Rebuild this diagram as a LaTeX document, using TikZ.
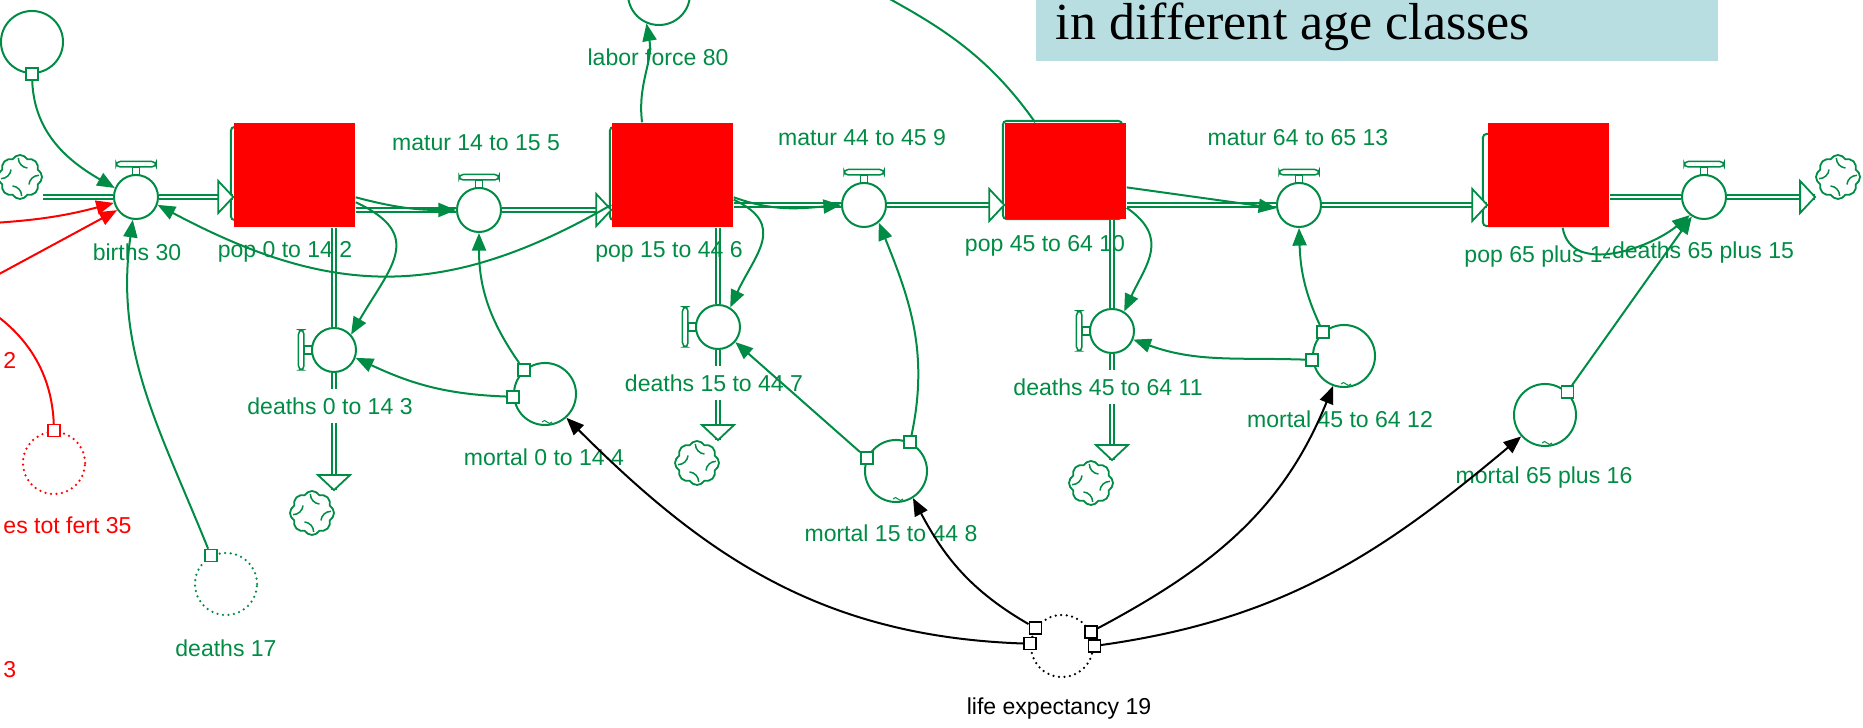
\documentclass[tikz,border=0pt]{standalone}
\usepackage{fontspec}
\setmainfont{Liberation Serif}
\setsansfont{Liberation Sans}
\usetikzlibrary{arrows.meta}
\usetikzlibrary{shapes.symbols}
\usetikzlibrary{positioning}

\definecolor{vgreen}{RGB}{0,140,68}
\definecolor{titlebg}{RGB}{185,222,226}

\newcommand\taptop[1]{%
  \draw[vgreen, line width=0.015cm] ([shift={(-3.5,-1)}]#1.north) rectangle ([shift={(3.5,7)}]#1.north);
  \draw[vgreen, line width=0.015cm, fill=white, rounded corners=1.2pt] ([shift={(-20,7)}]#1.north) rectangle ([shift={(20,12.5)}]#1.north);}
\newcommand\tapside[1]{%
  \draw[vgreen, line width=0.015cm] ([shift={(1,-4)}]#1.west) rectangle ([shift={(-7,4)}]#1.west);
  \draw[vgreen, line width=0.015cm, fill=white, rounded corners=1.2pt] ([shift={(-7,-20)}]#1.west) rectangle ([shift={(-12.5,20)}]#1.west);}
\newcommand\swirl[1]{%
  \foreach \a in {0,90,180,270}
    \draw[vgreen, line width=0.015cm] ([shift={({\a+95}:19)}]#1.center) arc[start angle=\a+180, end angle=\a+265, radius=10];}
\newcommand\tild[1]{%
  \draw[vgreen, line width=0.01cm] ([shift={(-3,4)}]#1.south) sin ++(2.5,1.5) cos ++(2.5,-1.5) sin ++(2.5,-1.5) cos ++(2.5,1.5);}

\begin{document}
\begin{tikzpicture}[x=0.01cm, y=0.01cm,
  lbl/.style={font=\sffamily\fontsize{6.55pt}{7.5pt}\selectfont, text=vgreen, inner sep=0.5pt},
  wlbl/.style={lbl, fill=white, inner xsep=1pt, inner ysep=0.09cm},
  valve/.style={circle, draw=vgreen, fill=white, line width=0.02cm, minimum size=0.44cm, inner sep=0},
  aux/.style={circle, draw=vgreen, line width=0.02cm, minimum size=0.62cm, inner sep=0},
  ghost/.style={aux, dash pattern=on 0pt off 0.055cm, line cap=round, line width=0.025cm},
  stock/.style={draw=vgreen, line width=0.02cm, rounded corners=1pt, minimum width=1.2cm, inner sep=0},
  redbox/.style={fill=red, minimum width=1.21cm, inner sep=0},
  sink/.style={cloud, cloud puffs=8, cloud puff arc=120, aspect=1, draw=vgreen, fill=white, line width=0.018cm, minimum size=0.44cm, inner sep=0},
  hnd/.style={draw=vgreen, fill=white, line width=0.015cm, minimum size=0.12cm, inner sep=0},
  pipe/.style={draw=vgreen, line width=0.018cm, double=white, double distance=0.025cm},
  link/.style={vgreen, line width=0.02cm, -{Triangle[length=5pt,width=4pt]}},
  pics/flowtip/.style={code={\draw[vgreen, fill=white, line width=0.018cm] (0,0) -- (-15,16) -- (-15,-16) -- cycle;}}]
\useasboundingbox (0,0) rectangle (1863,-728);
\clip (0,0) rectangle (1863,-728);

\node[fill=titlebg, minimum width=6.82cm, minimum height=0.82cm, anchor=south west, inner sep=0] (tbox) at (1035,-62) {};
\node[anchor=base west, inner sep=0, font=\rmfamily\fontsize{14.8pt}{16pt}\selectfont] (ttl) at (1055,-40) {in different age classes};

% stocks
\node[stock, minimum height=0.93cm] (p0b) at (291,-173.5) {};
\node[stock, minimum height=0.93cm] (p15b) at (670,-173.5) {};
\node[stock, minimum width=1.19cm, minimum height=0.98cm] (p45b) at (1062.5,-170) {};
\node[stock, minimum height=0.92cm] (p65b) at (1543,-180) {};
\node[redbox, minimum height=1.04cm] (p0) at (294.5,-175) {};
\node[redbox, minimum height=1.04cm] (p15) at (672.5,-175) {};
\node[redbox, minimum height=0.96cm] (p45) at (1065.5,-171) {};
\node[redbox, minimum height=1.04cm] (p65) at (1548.5,-175) {};

% clouds
\node[sink] (c0) at (20,-177) {};
\node[sink] (cd0) at (312,-513) {};
\node[sink] (cd15) at (697,-463) {};
\node[sink] (cd45) at (1091,-483) {};
\node[sink] (c65) at (1838,-177) {};
\foreach \c in {c0,cd0,cd15,cd45,c65} {\swirl{\c}}

% valves
\node[valve] (vb) at (136,-197) {};
\node[valve] (v14) at (479,-210) {};
\node[valve] (v44) at (864,-205) {};
\node[valve] (v64) at (1299,-205) {};
\node[valve] (vd65) at (1704,-197) {};
\node[valve] (vd0) at (334,-350) {};
\node[valve] (vd15) at (718,-327) {};
\node[valve] (vd45) at (1112,-331) {};
\foreach \v in {vb,v14,v44,v64,vd65} {\taptop{\v}}
\foreach \v in {vd0,vd15,vd45} {\tapside{\v}}

% auxiliaries
\node[aux] (a0) at (32,-42) {};
\node[aux] (lf) at (659,6) {};
\node[aux] (m0) at (545,-394) {};
\node[aux] (m15) at (896,-471) {};
\node[aux] (m45) at (1344,-356) {};
\node[aux] (m65) at (1545,-415) {};
\node[ghost] (d17) at (226,-584) {};
\node[ghost, draw=red] (tf) at (54,-463) {};
\node[ghost, draw=black] (le) at (1062,-646) {};
\foreach \m in {m0,m15,m45,m65} {\tild{\m}}

\node[hnd] (a0h) at (a0.south) {};
\node[hnd] (d17h) at (d17.118) {};
\node[hnd, draw=red] (tfh) at (tf.north) {};
\node[hnd] (m0h1) at (m0.131) {};
\node[hnd] (m0h2) at (m0.185) {};
\node[hnd] (m15h1) at (m15.156) {};
\node[hnd] (m15h2) at (m15.64) {};
\node[hnd] (m45h1) at (m45.131) {};
\node[hnd] (m45h2) at (m45.187) {};
\node[hnd] (m65h) at (m65.46) {};
\node[hnd, draw=black] (leh1) at (le.146) {};
\node[hnd, draw=black] (leh2) at (le.176) {};
\node[hnd, draw=black] (leh3) at (le.26) {};
\node[hnd, draw=black] (leh4) at (le.0) {};

% pipes
\draw[pipe] (c0.east |- vb.west) -- (vb.west);
\draw[pipe] (vb.east) -- (vb.east -| p0.west);
\draw[pipe] (p0.east |- v14.west) -- (v14.west);
\draw[pipe] (v14.east) -- (v14.east -| p15.west);
\draw[pipe] (p15.east |- v44.west) -- (v44.west);
\draw[pipe] (v44.east) -- (v44.east -| p45.west);
\draw[pipe] (p45.east |- v64.west) -- (v64.west);
\draw[pipe] (v64.east) -- (v64.east -| p65.west);
\draw[pipe] (p65.east |- vd65.west) -- (vd65.west);
\draw[pipe] (vd65.east) -- (vd65.east -| c65.west);
\draw[pipe] (vd0 |- p0.south) -- (vd0.north);
\draw[pipe] (vd0.south) -- (vd0 |- cd0.north);
\draw[pipe] (vd15 |- p15.south) -- (vd15.north);
\draw[pipe] (vd15.south) -- (vd15 |- cd15.north);
\draw[pipe] (vd45 |- p45.south) -- (vd45.north);
\draw[pipe] (vd45.south) -- (vd45 |- cd45.north);
\pic at (vb.east -| p0.west) {flowtip};
\pic at (v14.east -| p15.west) {flowtip};
\pic at (v44.east -| p45.west) {flowtip};
\pic at (v64.east -| p65.west) {flowtip};
\pic at (vd65.east -| c65.west) {flowtip};
\pic[rotate=-90] at (vd0 |- cd0.north) {flowtip};
\pic[rotate=-90] at (vd15 |- cd15.north) {flowtip};
\pic[rotate=-90] at (vd45 |- cd45.north) {flowtip};

% labels
\node[lbl] (lb) at (137,-252) {births 30};
\node[lbl] (lp0) at (285,-252) {pop 0 to 14 2};
\node[lbl] (lm14) at (476,-143) {matur 14 to 15 5};
\node[lbl] (llf) at (658,-57) {labor force 80};
\node[lbl] (lp15) at (669,-252) {pop 15 to 44 6};
\node[lbl] (lm44) at (862,-138) {matur 44 to 45 9};
\node[lbl] (lp45) at (1045,-246) {pop 45 to 64 10};
\node[lbl] (lm64) at (1298,-138) {matur 64 to 65 13};
\node[lbl, anchor=west] (lp65) at (1462,-257) {pop 65 plus 14};
\node[lbl, fill=white] (ld65) at (1703,-253) {deaths 65 plus 15};
\node[wlbl] (ld0) at (330,-406) {deaths 0 to 14 3};
\node[wlbl] (ld15) at (714,-383) {deaths 15 to 44 7};
\node[wlbl] (ld45) at (1108,-387) {deaths 45 to 64 11};
\node[lbl] (lmo0) at (544,-457) {mortal 0 to 14 4};
\node[lbl] (lmo15) at (891,-533) {mortal 15 to 44 8};
\node[lbl] (lmo45) at (1340,-419) {mortal 45 to 64 12};
\node[lbl] (lmo65) at (1544,-478) {mortal 65 plus 16};
\node[lbl] (ld17) at (226,-648) {deaths 17};
\node[lbl, text=black] (lle) at (1059,-709) {life expectancy 19};
\node[lbl, text=red, anchor=west] (ltf) at (1,-525) {es tot fert 35};
\node[lbl, text=red, anchor=west] (lr2) at (1,-360) {2};
\node[lbl, text=red, anchor=west] (lr3) at (1,-670) {3};

% links
\coordinate (top45) at (820,40);
\coordinate (r1) at (-60,-226);
\coordinate (r2) at (-60,-306);
\coordinate (r3) at (-50,-290);
\path[link]
  (a0h) edge[out=-88, in=150] (vb.157)
  (d17h) edge[out=112, in=-98] (vb.-98)
  (p0.-20) edge[out=-15, in=180] (v14.west)
  (p0.-24) edge[out=-25, in=60, looseness=1.5] (vd0.42)
  (m0h2) edge[out=178, in=-25] (vd0.-20)
  (m0h1) edge[out=125, in=-90] (v14.south)
  (p15.206) edge[out=210, in=-28, looseness=1.1] (vb.-20)
  (p15.120) edge[out=97, in=-80] (lf.247)
  (p15.-20) edge[out=-20, in=185] (v44.west)
  (p15.-22) edge[out=-25, in=65, looseness=1.4] (vd15.58)
  (m15h1) edge (vd15.-41)
  (m15h2) edge[out=78, in=-68] (v44.-50)
  (p45.-15) edge (v64.188)
  (p45.-31) edge[out=-35, in=65, looseness=1.3] (vd45.58)
  (m45h2) edge[out=178, in=-20] (vd45.-22)
  (m45h1) edge[out=115, in=-88] (v64.south)
  (m65h) edge (vd65.238)
  (p65.-75) edge[out=-80, in=-140] (vd65.232)
  (p45.122) edge[out=125, in=-30] (top45);
\path[link, black]
  (leh1) edge[out=150, in=-62] (m15.-58)
  (leh2) edge[out=178, in=-45] (m0.-48)
  (leh3) edge[out=28, in=-112] (m45.-110)
  (leh4) edge[out=8, in=-140] (m65.222);
\path[link, red]
  (r1) edge[out=3, in=195] (vb.195)
  (r2) edge (vb.215)
  (tfh) edge[out=92, in=-25] (r3);
\end{tikzpicture}
\end{document}
